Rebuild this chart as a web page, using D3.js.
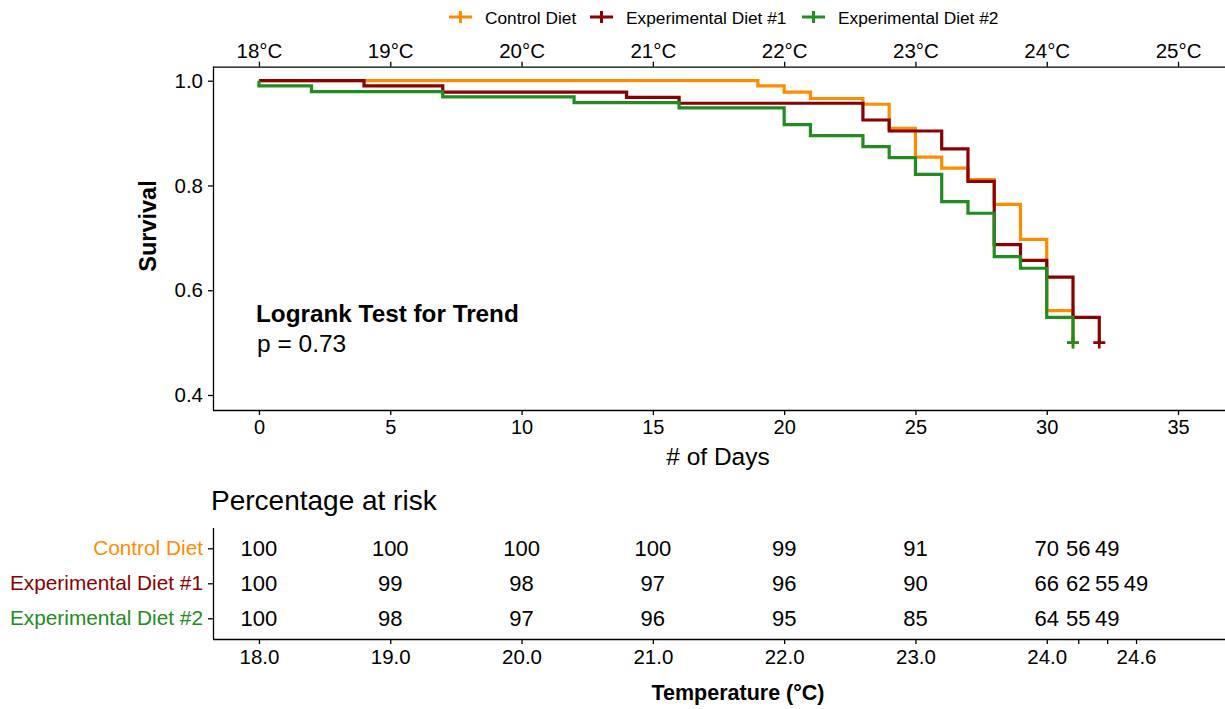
<!DOCTYPE html>
<html><head><meta charset="utf-8">
<script src="https://cdn.jsdelivr.net/npm/d3@7"></script>
<style>
body{margin:0;background:#fff;}
text{font-family:"Liberation Sans",Arial,sans-serif;}
</style></head>
<body>
<svg id="c" width="1225" height="709"></svg>
<script>
// ---- data ----
const seriesNames = ["Control Diet", "Experimental Diet #1", "Experimental Diet #2"];
const seriesColors = ["#FF8C00", "#8B0000", "#228B22"];
const controlTimes = [0, 19, 20, 21, 23, 24, 25, 26, 27, 28, 29, 30, 31];
const controlSurv  = [1.0, 0.99, 0.978, 0.966, 0.955, 0.909, 0.854, 0.833, 0.811, 0.764, 0.697, 0.561, 0.50];
const exp1Times = [0, 4, 7, 14, 16, 23, 24, 26, 27, 28, 29, 30, 31, 32];
const exp1Surv  = [1.0, 0.99, 0.978, 0.968, 0.957, 0.925, 0.904, 0.870, 0.808, 0.687, 0.657, 0.625, 0.548, 0.50];
const exp2Times = [0, 0, 2, 7, 12, 16, 20, 21, 23, 24, 25, 26, 27, 28, 29, 30, 31];
const exp2Surv  = [1.0, 0.99, 0.979, 0.969, 0.958, 0.948, 0.916, 0.895, 0.874, 0.853, 0.821, 0.769, 0.747, 0.664, 0.642, 0.548, 0.50];
const dayTicks = [0, 5, 10, 15, 20, 25, 30, 35];
const tempTicks = [18, 19, 20, 21, 22, 23, 24, 25];
const survTicks = [0.4, 0.6, 0.8, 1.0];
const tableCols = [0, 5, 10, 15, 20, 25, 30, 31.2, 32.3, 33.4];
const tableColLabels = ["18.0", "19.0", "20.0", "21.0", "22.0", "23.0", "24.0", "", "", "24.6"];
const riskControl = [100, 100, 100, 100, 99, 91, 70, 56, 49];
const riskExp1    = [100, 99, 98, 97, 96, 90, 66, 62, 55, 49];
const riskExp2    = [100, 98, 97, 96, 95, 85, 64, 55, 49];

const series = [
  {name: seriesNames[0], color: seriesColors[0], t: controlTimes, s: controlSurv, risk: riskControl},
  {name: seriesNames[1], color: seriesColors[1], t: exp1Times, s: exp1Surv, risk: riskExp1},
  {name: seriesNames[2], color: seriesColors[2], t: exp2Times, s: exp2Surv, risk: riskExp2}
];

const svg = d3.select("#c");
const pLeft = 213, pRight = 1225, pTop = 66.7, pBottom = 410;
const x = d3.scaleLinear().domain([-1.75, 36.75]).range([pLeft, 1224]);
const tempX = d3.scaleLinear().domain([18 - 0.35, 25 + 0.35]).range([x(-1.75), x(36.75)]);
const y = d3.scaleLinear().domain([0.4, 1.0]).range([395, 80.7]);

// ---- axes ----
function styleAxis(g){
  g.selectAll("path").attr("stroke","#000").attr("stroke-width",1.3);
  g.selectAll("line").attr("stroke","#000").attr("stroke-width",1.3);
  g.selectAll("text").attr("font-family","Liberation Sans, Arial, sans-serif").attr("fill","#000");
}
const xAxisG = svg.append("g").attr("transform",`translate(0,${pBottom})`)
  .call(d3.axisBottom(x).tickValues(dayTicks).tickSize(5).tickSizeOuter(0).tickPadding(5));
styleAxis(xAxisG); xAxisG.selectAll("text").attr("font-size",20);
xAxisG.select("path.domain").attr("d",`M${pLeft},0.5H${pRight}`);

const topAxisG = svg.append("g").attr("transform",`translate(0,${pTop})`)
  .call(d3.axisTop(tempX).tickValues(tempTicks).tickFormat(d=>d+"°C").tickSize(5).tickSizeOuter(0).tickPadding(4));
styleAxis(topAxisG); topAxisG.selectAll("text").attr("font-size",20.5);
topAxisG.select("path.domain").attr("d",`M${pLeft},0.5H${pRight}`);

const yAxisG = svg.append("g").attr("transform",`translate(${pLeft},0)`)
  .call(d3.axisLeft(y).tickValues(survTicks).tickFormat(d3.format(".1f")).tickSize(5).tickSizeOuter(0).tickPadding(5));
styleAxis(yAxisG); yAxisG.selectAll("text").attr("font-size",20.5);
yAxisG.select("path.domain").attr("d",`M0.5,${pTop}V${pBottom}`);

svg.append("text").attr("transform","translate(156,226) rotate(-90)").attr("text-anchor","middle")
  .attr("font-size",23.5).attr("font-weight","bold").attr("fill","#000").text("Survival");
svg.append("text").attr("x",718).attr("y",465).attr("text-anchor","middle").attr("font-size",24.5).attr("fill","#000").text("# of Days");

// ---- curves ----
const line = d3.line().x(d=>x(d[0])).y(d=>y(d[1])).curve(d3.curveStepAfter);
series.forEach(sr=>{
  const pts = sr.t.map((t,i)=>[t, sr.s[i]]);
  svg.append("path").attr("d",line(pts)).attr("fill","none").attr("stroke",sr.color).attr("stroke-width",3.2);
  const last = pts[pts.length-1];
  const cx = x(last[0]), cy = y(last[1]);
  svg.append("path").attr("d",`M${cx-6},${cy}H${cx+6}M${cx},${cy-6}V${cy+6}`)
    .attr("stroke",sr.color).attr("stroke-width",2.6);
});

svg.append("text").attr("x",256).attr("y",321.5).attr("font-size",24.3).attr("font-weight","bold").attr("fill","#000").text("Logrank Test for Trend");
svg.append("text").attr("x",257).attr("y",351.5).attr("font-size",24.5).attr("fill","#000").text("p = 0.73");

// ---- legend ----
const legX = [449, 590, 802];
series.forEach((sr,i)=>{
  const g = svg.append("g").attr("transform",`translate(${legX[i]},17)`);
  g.append("path").attr("d","M0,0H23M11.5,-6V6").attr("stroke",sr.color).attr("stroke-width",3);
  g.append("text").attr("x",36).attr("y",7).attr("font-size",17.3).attr("fill","#000").text(sr.name);
});

// ---- risk table ----
svg.append("text").attr("x",211).attr("y",510).attr("font-size",28).attr("fill","#000").text("Percentage at risk");
const tTop = 528, tBottom = 639;
const rowY = d3.scalePoint().domain(seriesNames).range([548.3, 618.3]);
const rowAxis = svg.append("g").attr("transform",`translate(${pLeft},0)`)
  .call(d3.axisLeft(rowY).tickSize(5).tickSizeOuter(0).tickPadding(5));
styleAxis(rowAxis);
rowAxis.select("path.domain").attr("d",`M0.5,${tTop}V${tBottom}`);
rowAxis.selectAll(".tick text").attr("font-size",20.8).attr("fill",d=>seriesColors[seriesNames.indexOf(d)]);

const bAxis = svg.append("g").attr("transform",`translate(0,${tBottom})`)
  .call(d3.axisBottom(x).tickValues(tableCols).tickFormat((d,i)=>tableColLabels[i]).tickSize(5).tickSizeOuter(0).tickPadding(5));
styleAxis(bAxis); bAxis.selectAll("text").attr("font-size",20.5);
bAxis.select("path.domain").attr("d",`M${pLeft},0.5H${pRight}`);

series.forEach(sr=>{
  svg.append("g").selectAll("text").data(sr.risk).join("text")
    .attr("x",(d,i)=>x(tableCols[i])).attr("y",rowY(sr.name)+7.8)
    .attr("text-anchor","middle").attr("font-size",22).attr("fill","#000").text(d=>d);
});
svg.append("text").attr("x",738).attr("y",700).attr("text-anchor","middle").attr("font-size",21.5).attr("font-weight","bold").attr("fill","#000").text("Temperature (°C)");
</script>
</body></html>
